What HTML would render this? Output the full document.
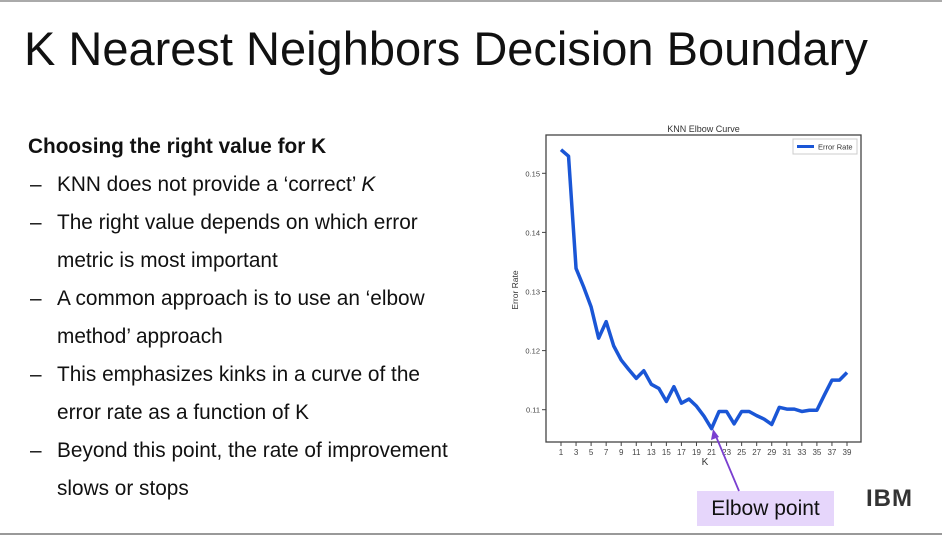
<!DOCTYPE html>
<html><head><meta charset="utf-8"><style>
body{margin:0;width:942px;height:536px;background:#fff;position:relative;overflow:hidden;font-family:"Liberation Sans",sans-serif;}
.t{position:absolute;color:#111;}
#title{left:24px;top:21px;font-size:47px;}
.b{font-size:20.8px;left:57px;}
.d{position:absolute;left:30px;font-size:20.8px;}
</style></head><body>
<div style="position:absolute;left:0;top:0;width:942px;height:2px;background:#aaa"></div>
<div style="position:absolute;left:0;top:533px;width:942px;height:2px;background:#999"></div>
<div id="title" class="t">K Nearest Neighbors Decision Boundary</div>
<div class="t" style="left:28px;top:135px;font-size:20.8px;font-weight:bold">Choosing the right value for K</div>
<div class="t d" style="top:173px">–</div>
<div class="t b" style="top:173px">KNN does not provide a ‘correct’ <i>K</i></div>
<div class="t d" style="top:211px">–</div>
<div class="t b" style="top:211px">The right value depends on which error</div>
<div class="t b" style="top:249px">metric is most important</div>
<div class="t d" style="top:287px">–</div>
<div class="t b" style="top:287px">A common approach is to use an ‘elbow</div>
<div class="t b" style="top:325px">method’ approach</div>
<div class="t d" style="top:363px">–</div>
<div class="t b" style="top:363px">This emphasizes kinks in a curve of the</div>
<div class="t b" style="top:401px">error rate as a function of K</div>
<div class="t d" style="top:439px">–</div>
<div class="t b" style="top:439px">Beyond this point, the rate of improvement</div>
<div class="t b" style="top:477px">slows or stops</div>
<div style="position:absolute;left:697px;top:491px;width:137px;height:35px;background:#e6d6fb;font-size:21px;line-height:35px;text-align:center;color:#111">Elbow point</div>
<div style="position:absolute;left:866px;top:485px;font-size:24px;font-weight:bold;letter-spacing:1px;color:#333;background:repeating-linear-gradient(transparent 0 2px,#fff 2px 3.5px);"><span style="position:relative">IBM</span></div>
<svg id="chart" width="942" height="536" style="position:absolute;left:0;top:0"></svg>
<script>
const ks=[1,2,3,4,5,6,7,8,9,10,11,12,13,14,15,16,17,18,19,20,21,22,23,24,25,26,27,28,29,30,31,32,33,34,35,36,37,38,39];
const errorRate=[0.1540,0.1529,0.1339,0.1308,0.1274,0.1221,0.1249,0.1208,0.1184,0.1168,0.1153,0.1166,0.1143,0.1136,0.1114,0.1139,0.1111,0.1118,0.1106,0.1089,0.1068,0.1097,0.1097,0.1076,0.1097,0.1097,0.1090,0.1084,0.1075,0.1104,0.1101,0.1101,0.1097,0.1099,0.1099,0.1125,0.1150,0.1150,0.1163];
const xTicks=[1,3,5,7,9,11,13,15,17,19,21,23,25,27,29,31,33,35,37,39];
const yTicks=[0.11,0.12,0.13,0.14,0.15];
const L=546,R=861,T=135,B=442;
const x=k=>561+(k-1)*(847-561)/38;
const y=v=>409.7-(v-0.11)*5910;
const svg=document.getElementById('chart');const NS='http://www.w3.org/2000/svg';
function mk(t,a,txt){const e=document.createElementNS(NS,t);for(const k in a)e.setAttribute(k,a[k]);if(txt!==undefined)e.textContent=txt;svg.appendChild(e);return e;}
let e;
e=mk('rect',{x:L,y:T,width:R-L,height:B-T,fill:'none',stroke:'#444','stroke-width':1.3});


e=mk('text',{x:(L+R)/2,y:132,'font-size':9,'text-anchor':'middle',fill:'#333','font-family':'Liberation Sans'},'KNN Elbow Curve');


xTicks.forEach(k=>{
 e=mk('line',{x1:x(k),x2:x(k),y1:B,y2:B+4,stroke:'#444'});
 
 
 e=mk('text',{x:x(k),y:B+13,'font-size':8,'text-anchor':'middle',fill:'#444','font-family':'Liberation Sans'},k);
 
 
});
yTicks.forEach(v=>{
 e=mk('line',{x1:L-4,x2:L,y1:y(v),y2:y(v),stroke:'#444'});
 
 
 e=mk('text',{x:L-6,y:y(v)+3,'font-size':7.5,'text-anchor':'end',fill:'#444','font-family':'Liberation Sans'},v.toFixed(2));
 
 
});
e=mk('text',{x:705,y:465,'font-size':10,'text-anchor':'middle',fill:'#333','font-family':'Liberation Sans'},'K');


e=mk('text',{x:518,y:290,'font-size':8.5,'text-anchor':'middle',fill:'#333','font-family':'Liberation Sans',transform:'rotate(-90 518 290)'},'Error Rate');


e=mk('polyline',{points:ks.map((k,i)=>x(k)+','+y(errorRate[i])).join(' '),fill:'none',stroke:'#1a56d6','stroke-width':3.5,'stroke-linejoin':'round'});


e=mk('rect',{x:793,y:139,width:64,height:15,fill:'#fff',stroke:'#ccc'});


e=mk('line',{x1:797,x2:814,y1:146.5,y2:146.5,stroke:'#1a56d6','stroke-width':3});


e=mk('text',{x:818,y:149.5,'font-size':7.5,fill:'#333','font-family':'Liberation Sans'},'Error Rate');


e=mk('line',{x1:739,y1:491,x2:715,y2:434,stroke:'#7a3fd0','stroke-width':1.8});


e=mk('polygon',{points:'713,429 711,440 719,437',fill:'#7a3fd0'});


</script>
</body></html>
